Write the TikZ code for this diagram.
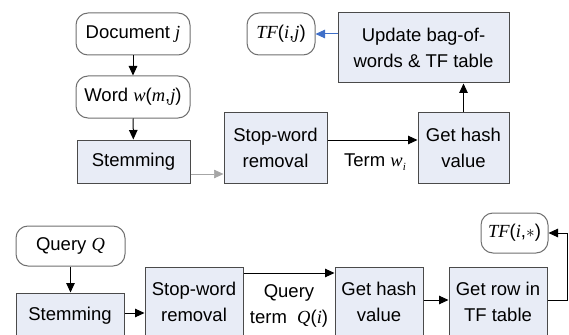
\documentclass[tikz,border=0pt]{standalone}
\usepackage{fontspec}
\setmainfont{Liberation Sans}
\newfontfamily\tms{Liberation Serif}
\usetikzlibrary{arrows.meta}
\definecolor{boxfill}{HTML}{E8ECF6}
\definecolor{boxline}{HTML}{4A4A4A}
\definecolor{rndline}{HTML}{707070}
\definecolor{arrblue}{HTML}{3F6FC8}
\newcommand{\vi}[1]{{\tms\itshape #1}}
\tikzset{
  procbox/.style={draw=boxline, fill=boxfill, line width=1pt, inner sep=0pt,
    align=center, font=\fontsize{18.5}{26}\selectfont},
  termbox/.style={draw=rndline, fill=white, line width=1pt, rounded corners=12pt,
    inner sep=0pt, align=center, font=\fontsize{18.5}{26}\selectfont},
  flow/.style={line width=1pt, draw=black, -{Triangle[length=9.5pt,width=8.5pt]}},
  lbl/.style={align=center, font=\fontsize{18.5}{26}\selectfont, inner sep=0pt}
}
\begin{document}
\begin{tikzpicture}[x=1pt,y=-1pt]
\useasboundingbox (0,0) rectangle (569,334);
% top row
\node[termbox, minimum width=114pt, minimum height=42pt] (doc) at (133,34) {Document \vi{j}};
\node[termbox, minimum width=114pt, minimum height=42pt] (word) at (133,97) {Word \vi{w}(\vi{m},\vi{j})};
\node[procbox, minimum width=113pt, minimum height=43pt] (stem1) at (133.5,161.5) {Stemming};
\node[procbox, minimum width=103pt, minimum height=71pt] (stop1) at (275.5,147.5) {Stop-word\\removal};
\node[procbox, minimum width=91pt, minimum height=71pt] (hash1) at (463.5,147.5) {Get hash\\value};
\node[procbox, minimum width=171pt, minimum height=70pt] (upd) at (423.5,48) {Update bag-of-\\words \& TF table};
\node[termbox, minimum width=68pt, minimum height=42pt] (tf1) at (281,34) {\vi{TF}(\vi{i},\vi{j})};
\node[lbl] (term1) at (375,162) {Term \vi{w}\raisebox{-0.25em}{\fontsize{11}{11}\selectfont\vi{i}}};
% bottom row
\node[termbox, minimum width=109pt, minimum height=40pt] (query) at (70.5,246) {Query \vi{Q}};
\node[procbox, minimum width=108pt, minimum height=46pt, text depth=0pt] (stem2) at (70,316) {\raisebox{4pt}{Stemming}};
\node[procbox, minimum width=98pt, minimum height=72pt] (stop2) at (194,303) {\raisebox{4pt}{\begin{tabular}{@{}c@{}}Stop-word\\removal\end{tabular}}};
\node[procbox, minimum width=88pt, minimum height=72pt] (hash2) at (379,303) {\raisebox{4pt}{\begin{tabular}{@{}c@{}}Get hash\\value\end{tabular}}};
\node[procbox, minimum width=98pt, minimum height=72pt] (row) at (498,303) {\raisebox{4pt}{\begin{tabular}{@{}c@{}}Get row in\\TF table\end{tabular}}};
\node[termbox, minimum width=67pt, minimum height=40pt] (tf2) at (514.5,233) {\vi{TF}(\vi{i},$\ast$)};
\node[lbl] (term2) at (289,306) {Query\\term~~\vi{Q}(\vi{i})};
\coordinate (c1) at (567,300);
\coordinate (c2) at (567,233);
% connectors top
\draw[flow] (doc) -- (word);
\draw[flow] (word) -- (stem1);
\draw[flow, draw=gray!70, line width=0.7pt] (stem1.east |- 0,174) -- (stop1.west |- 0,174);
\draw[flow] (stop1.east |- 0,140) -- (hash1.west |- 0,140);
\draw[flow] (hash1.north) -- (hash1.north |- upd.south);
\draw[flow, draw=arrblue, fill=arrblue] (upd.west |- tf1) -- (tf1);
% connectors bottom
\draw[flow] (query) -- (stem2.north -| query);
\draw[flow] (stem2.east |- 0,313) -- (stop2.west |- 0,313);
\draw[flow] (stop2.east |- 0,273) -- (hash2.west |- 0,273);
\draw[flow] (hash2.east |- 0,300) -- (row.west |- 0,300);
\draw[flow] (row.east |- c1) -- (c1) -- (c2) -- (tf2.east);
\end{tikzpicture}
\end{document}
